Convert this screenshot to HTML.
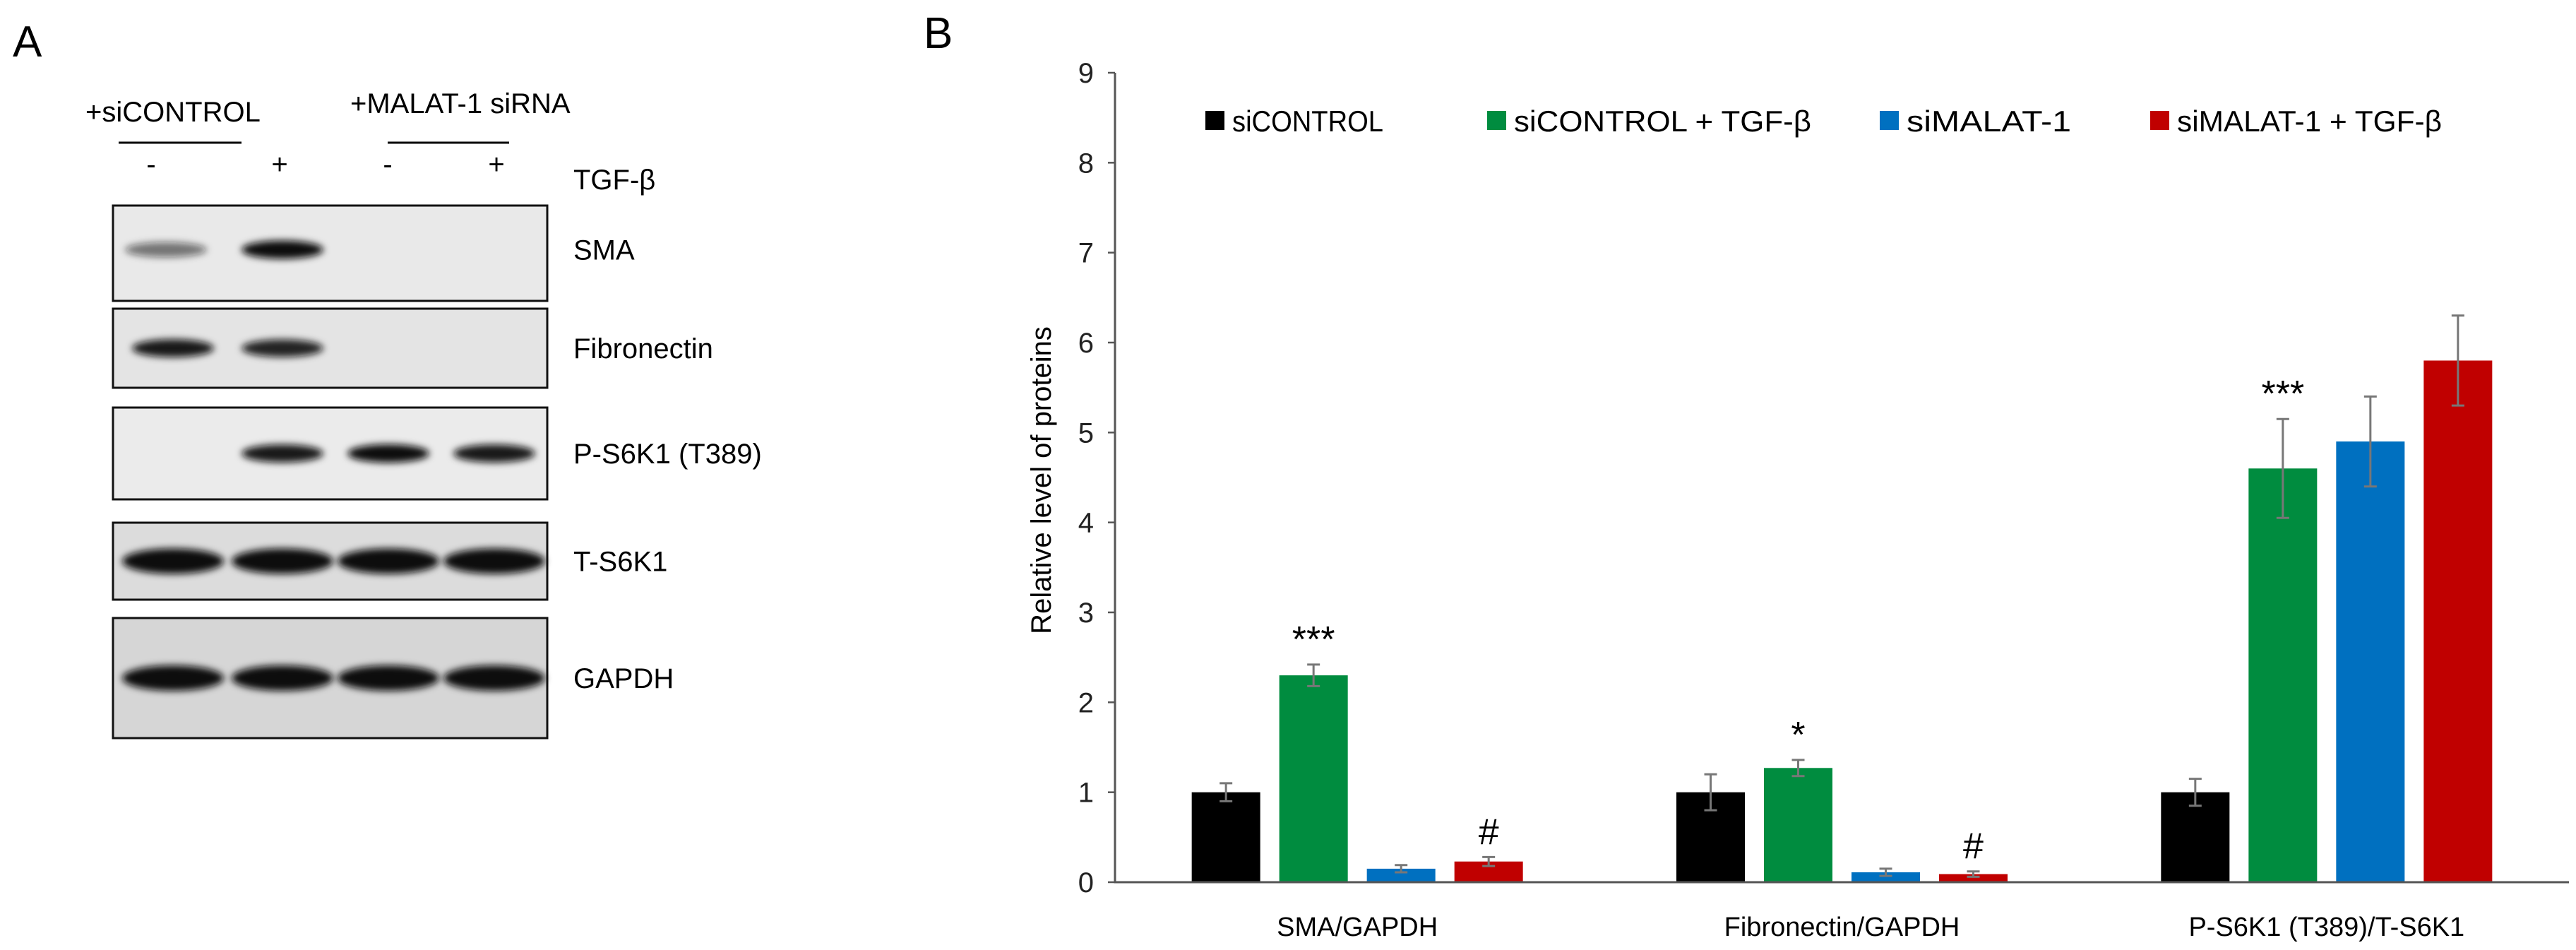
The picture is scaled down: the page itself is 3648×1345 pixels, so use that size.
<!DOCTYPE html>
<html><head><meta charset="utf-8"><style>
html,body{margin:0;padding:0;background:#fff;}
svg{display:block;font-family:"Liberation Sans",sans-serif;}
</style></head><body>
<svg id="fig" width="3648" height="1345" viewBox="0 0 3648 1345" xmlns="http://www.w3.org/2000/svg">
<defs>
<filter id="blur" x="-20%" y="-50%" width="140%" height="200%"><feGaussianBlur stdDeviation="5"/></filter>
</defs>
<g id="panelA">
<text x="18" y="80" font-size="62">A</text>
<text x="121" y="172" font-size="40">+siCONTROL</text>
<line x1="168" y1="202" x2="342" y2="202" stroke="#000" stroke-width="3"/>
<text x="496" y="160" font-size="40">+MALAT-1 siRNA</text>
<line x1="549" y1="202" x2="721" y2="202" stroke="#000" stroke-width="3"/>
<text x="214" y="246" font-size="40" text-anchor="middle">-</text>
<text x="396" y="246" font-size="40" text-anchor="middle">+</text>
<text x="549" y="246" font-size="40" text-anchor="middle">-</text>
<text x="703" y="246" font-size="40" text-anchor="middle">+</text>
<text x="812" y="268" font-size="40">TGF-β</text>
<g id="blots"></g>
</g>
<g id="panelB"></g>
</svg>
<script>
const NS="http://www.w3.org/2000/svg";
function mk(tag,attrs,parent,txt){const e=document.createElementNS(NS,tag);for(const k in attrs)e.setAttribute(k,attrs[k]);if(txt!==undefined)e.textContent=txt;parent.appendChild(e);return e;}

// ---- Panel A blots ----
const blotNames=["SMA","Fibronectin","P-S6K1 (T389)","T-S6K1","GAPDH"];
const blotTops=[291,437,577,740,875];
const blotBottoms=[426,549,707,849,1045];
const blotBg=["#e9e9e9","#e4e4e4","#ebebeb","#dcdcdc","#d6d6d6"];
const laneX=[245,400,550,700];
const bandIntensity=[[0.55,1,0,0],[0.95,0.9,0,0],[0,0.95,1,0.95],[1,1,1,1],[1,1,1,1]];
const blots=document.getElementById('blots');
blotNames.forEach((n,i)=>{
  const g=mk('g',{},blots);
  
  
  mk('rect',{x:160,y:blotTops[i],width:615,height:blotBottoms[i]-blotTops[i],fill:blotBg[i],stroke:"#111","stroke-width":3},g);
  const cy=(blotTops[i]+blotBottoms[i])/2+(i===0?-5:0);
  const h=i>=3?36:26;
  bandIntensity[i].forEach((v,j)=>{
    if(v<=0)return;
    const b=mk('ellipse',{cx:laneX[j]+(i===0&&j===0?-10:0),cy:cy,rx:i>=3?72:58,ry:h/2*(0.6+0.4*v),fill:"#111","fill-opacity":v,filter:"url(#blur)"},g);
    
    
  });
  const t=mk('text',{x:812,y:cy+14,"font-size":40},g,n);
  
  
});

// ---- Panel B chart ----
const categories=["SMA/GAPDH","Fibronectin/GAPDH","P-S6K1 (T389)/T-S6K1"];
const seriesNames=["siCONTROL","siCONTROL + TGF-β","siMALAT-1","siMALAT-1 + TGF-β"];
const seriesColors=["#000000","#008C3F","#0070C0","#C00000"];
const sControl=[1,1,1];
const sControlTGF=[2.3,1.27,4.6];
const sMalat=[0.15,0.11,4.9];
const sMalatTGF=[0.23,0.09,5.8];
const eControl=[0.1,0.2,0.15];
const eControlTGF=[0.12,0.09,0.55];
const eMalat=[0.04,0.04,0.5];
const eMalatTGF=[0.05,0.03,0.5];
const yTicks=[0,1,2,3,4,5,6,7,8,9];
const annotations=[["","***","","#"],["","*","","#"],["","***","",""]];

const values=[sControl,sControlTGF,sMalat,sMalatTGF];
const errors=[eControl,eControlTGF,eMalat,eMalatTGF];
const X0=1579,X1=3638,Y0=1249,Y9=103,YMAX=9;
const y=v=>Y0-(Y0-Y9)*v/YMAX;
const catW=(X1-X0)/categories.length;
const barW=97,step=124;
const x=(ci,si)=>X0+catW*(ci+0.5)+(si-1.5)*step-barW/2;
const B=document.getElementById('panelB');
const lb=mk('text',{x:1308,y:68,"font-size":62},B,"B");


yTicks.forEach(t=>{
  const tk=mk('line',{x1:X0-10,y1:y(t),x2:X0,y2:y(t),stroke:"#555","stroke-width":2.5},B);
  
  const tl=mk('text',{x:X0-30,y:y(t)+14,"font-size":40,"text-anchor":"end",fill:"#222"},B,String(t));
  
});
const yt=mk('text',{x:0,y:0,"font-size":40,"text-anchor":"middle",transform:"translate(1488,680) rotate(-90)"},B,"Relative level of proteins");


categories.forEach((c,ci)=>{
  values.forEach((arr,si)=>{
    const v=arr[ci],e=errors[si][ci];
    const r=mk('rect',{x:x(ci,si),y:y(v),width:barW,height:Y0-y(v),fill:seriesColors[si]},B);
    
    const cx=x(ci,si)+barW/2;
    const eb=mk('path',{d:`M${cx} ${y(v+e)}V${y(v-e)}M${cx-9} ${y(v+e)}H${cx+9}M${cx-9} ${y(v-e)}H${cx+9}`,stroke:"#777","stroke-width":3,fill:"none"},B);
    
    const a=annotations[ci][si];
    if(a){
      const at=mk('text',{x:cx,y:y(v+e)-18,"font-size":52,"text-anchor":"middle"},B,a);
      
    }
  });
  const cl=mk('text',{x:X0+catW*(ci+0.5),y:1325,"font-size":38,"text-anchor":"middle"},B,c);
  
});
const ax=mk('path',{d:`M${X0} ${Y9}V${Y0}H${X1}`,stroke:"#555","stroke-width":3,fill:"none"},B);


const legX=[1707,2106,2662,3045];
const legW=[214,421,233,375];
seriesNames.forEach((n,i)=>{
  const g=mk('g',{},B);
  
  mk('rect',{x:legX[i],y:157,width:27,height:27,fill:seriesColors[i]},g);
  mk('text',{x:legX[i]+38,y:186,"font-size":42,textLength:legW[i],lengthAdjust:"spacingAndGlyphs"},g,n);
});
</script>
</body></html>
